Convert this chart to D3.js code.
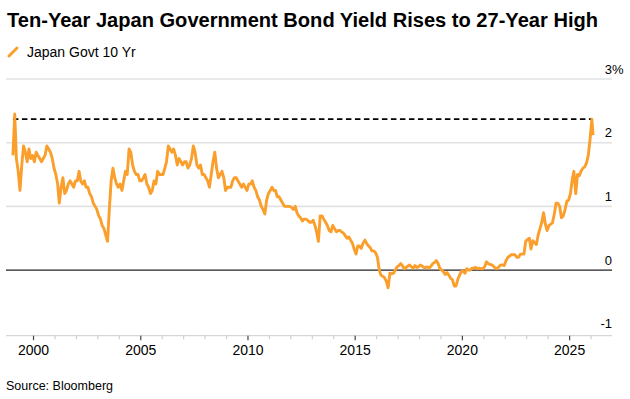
<!DOCTYPE html>
<html>
<head>
<meta charset="utf-8">
<script src="https://cdn.jsdelivr.net/npm/d3@7"></script>
<style>
  body { margin: 0; background: #fff; }
  text { font-family: "Liberation Sans", Arial, sans-serif; fill: #000; }
</style>
</head>
<body>
<div id="chart"></div>
<script>

let width = 630,
    height = 399;

// monthly readings of the 10yr JGB yield (%), Jan 1999 .. Jan 2026
let firstMonth = "1999-01-15";
let monthlyYield = [
    1.80, 2.45, 1.75, 1.55, 1.25, 1.65, 1.95, 1.85, 1.70, 1.90, 1.75, 1.80,   // 1999
    1.70, 1.85, 1.80, 1.75, 1.70, 1.75, 1.80, 1.95, 1.90, 1.85, 1.75, 1.60,   // 2000
    1.50, 1.35, 1.05, 1.30, 1.45, 1.20, 1.25, 1.35, 1.40, 1.35, 1.30, 1.40,   // 2001
    1.40, 1.55, 1.40, 1.35, 1.40, 1.30, 1.30, 1.20, 1.15, 1.05, 1.00, 0.95,   // 2002
    0.85, 0.80, 0.70, 0.65, 0.55, 0.45, 0.95, 1.40, 1.60, 1.45, 1.35, 1.30,   // 2003
    1.35, 1.25, 1.40, 1.55, 1.50, 1.90, 1.85, 1.65, 1.55, 1.50, 1.50, 1.40,   // 2004
    1.40, 1.45, 1.50, 1.35, 1.30, 1.20, 1.25, 1.40, 1.35, 1.55, 1.50, 1.50,   // 2005
    1.50, 1.60, 1.70, 1.95, 1.90, 1.85, 1.90, 1.80, 1.65, 1.75, 1.70, 1.65,   // 2006
    1.70, 1.70, 1.60, 1.65, 1.75, 1.95, 1.85, 1.65, 1.60, 1.65, 1.50, 1.50,   // 2007
    1.45, 1.40, 1.30, 1.50, 1.70, 1.85, 1.60, 1.45, 1.50, 1.55, 1.45, 1.25,   // 2008
    1.30, 1.30, 1.30, 1.40, 1.45, 1.45, 1.40, 1.35, 1.30, 1.35, 1.30, 1.25,   // 2009
    1.35, 1.35, 1.40, 1.30, 1.25, 1.15, 1.10, 1.00, 0.95, 0.88, 1.10, 1.20,   // 2010
    1.25, 1.30, 1.25, 1.25, 1.15, 1.15, 1.10, 1.05, 1.00, 1.00, 1.00, 1.00,   // 2011
    0.98, 0.95, 1.00, 0.90, 0.85, 0.82, 0.77, 0.80, 0.80, 0.78, 0.75, 0.75,   // 2012
    0.78, 0.70, 0.60, 0.45, 0.85, 0.85, 0.80, 0.75, 0.70, 0.62, 0.60, 0.70,   // 2013
    0.65, 0.60, 0.62, 0.62, 0.60, 0.58, 0.54, 0.50, 0.52, 0.47, 0.42, 0.33,   // 2014
    0.25, 0.38, 0.38, 0.34, 0.42, 0.47, 0.42, 0.38, 0.35, 0.30, 0.30, 0.27,   // 2015
    0.20, 0.00, -0.08, -0.10, -0.12, -0.18, -0.28, -0.05, -0.06, -0.05, 0.00, 0.05, // 2016
    0.07, 0.10, 0.07, 0.02, 0.04, 0.06, 0.08, 0.05, 0.03, 0.07, 0.04, 0.05,   // 2017
    0.08, 0.06, 0.04, 0.04, 0.05, 0.03, 0.06, 0.10, 0.12, 0.15, 0.10, 0.02,   // 2018
    0.00, -0.03, -0.07, -0.04, -0.08, -0.13, -0.15, -0.25, -0.25, -0.15, -0.08, -0.02, // 2019
    -0.02, -0.05, 0.02, 0.00, 0.00, 0.03, 0.03, 0.04, 0.02, 0.03, 0.02, 0.02, // 2020
    0.05, 0.13, 0.10, 0.09, 0.08, 0.06, 0.03, 0.02, 0.05, 0.08, 0.08, 0.07,   // 2021
    0.15, 0.20, 0.22, 0.24, 0.24, 0.24, 0.20, 0.20, 0.25, 0.25, 0.25, 0.45,   // 2022
    0.48, 0.50, 0.33, 0.46, 0.43, 0.40, 0.55, 0.65, 0.75, 0.90, 0.72, 0.62,   // 2023
    0.70, 0.72, 0.74, 0.88, 1.05, 1.05, 1.00, 0.82, 0.85, 0.95, 1.08, 1.10,   // 2024
    1.20, 1.42, 1.55, 1.20, 1.50, 1.48, 1.55, 1.60, 1.62, 1.68, 1.80, 2.05,   // 2025
    2.37                                                                       // 2026
];
let lastDate = "2026-02-04",
    lastYield = 2.12;

let highLevel = 2.37;   // dashed line: the 27-year high

let yTicks = [-1, 0, 1, 2, 3];
let yearTicks = d3.range(2000, 2027);
let labelYears = [2000, 2005, 2010, 2015, 2020, 2025];

let parse = d3.timeParse("%Y-%m-%d");
let start = parse(firstMonth);
let data = monthlyYield.map(function (v, i) { return { date: d3.timeMonth.offset(start, i), value: v } });
data.push({ date: parse(lastDate), value: lastYield });

let plotLeft = 6, plotRight = 612;

let svg = d3.select("#chart")
    .append("svg")
    .attr("width", width)
    .attr("height", height);

let x = d3.scaleTime()
    .domain([new Date(1998, 8, 19), new Date(2026, 11, 24)])
    .range([plotLeft, plotRight]);

let y = d3.scaleLinear()
    .domain([-1, 3])
    .range([333.7, 79]);

// title + legend
svg.append("text")
    .attr("x", 7)
    .attr("y", 27)
    .attr("textLength", 591)
    .attr("lengthAdjust", "spacingAndGlyphs")
    .style("font-size", "20px")
    .style("font-weight", "bold")
    .text("Ten-Year Japan Government Bond Yield Rises to 27-Year High");

svg.append("line")
    .attr("x1", 9).attr("y1", 56)
    .attr("x2", 17).attr("y2", 48)
    .attr("stroke", "#fb9f2c")
    .attr("stroke-width", 3)
    .attr("stroke-linecap", "round");

svg.append("text")
    .attr("x", 27)
    .attr("y", 56.5)
    .style("font-size", "14px")
    .text("Japan Govt 10 Yr");

// gridlines
svg.append("g")
    .selectAll("line")
    .data(yTicks.filter(function (d) { return d > -1 }))
    .enter()
    .append("line")
    .attr("x1", plotLeft)
    .attr("x2", plotRight)
    .attr("y1", function (d) { return y(d) })
    .attr("y2", function (d) { return y(d) })
    .attr("stroke", function (d) { return d === 0 ? "#222" : "#e2e2e2" })
    .attr("stroke-width", function (d) { return d === 0 ? 1.3 : 1.6 });

// y labels
let yLab = svg.append("g");
yLab.selectAll("text")
    .data(yTicks)
    .enter()
    .append("text")
    .attr("x", 612)
    .attr("y", function (d) { return y(d) - 5.5 })
    .style("text-anchor", "end")
    .style("font-size", "13px")
    .text(function (d) { return d < 0 ? "-" + Math.abs(d) : d });
yLab.append("text")
    .attr("x", 612)
    .attr("y", y(3) - 5.5)
    .style("font-size", "13px")
    .text("%");

// x axis
let axisY = 335.7;
svg.append("line")
    .attr("x1", plotLeft).attr("x2", plotRight)
    .attr("y1", axisY).attr("y2", axisY)
    .attr("stroke", "#d6d6d6")
    .attr("stroke-width", 1.2);

svg.append("g")
    .selectAll("line")
    .data(yearTicks)
    .enter()
    .append("line")
    .attr("x1", function (d) { return x(new Date(d, 0, 1)) })
    .attr("x2", function (d) { return x(new Date(d, 0, 1)) })
    .attr("y1", axisY)
    .attr("y2", function (d) { return labelYears.includes(d) ? axisY + 4.5 : axisY + 3.5 })
    .attr("stroke", function (d) { return labelYears.includes(d) ? "#444" : "#cfcfcf" })
    .attr("stroke-width", 1.2);

svg.append("g")
    .selectAll("text")
    .data(labelYears)
    .enter()
    .append("text")
    .attr("x", function (d) { return x(new Date(d, 0, 1)) })
    .attr("y", 355)
    .style("text-anchor", "middle")
    .style("font-size", "14px")
    .text(function (d) { return d });

// dashed high line
svg.append("line")
    .attr("x1", x(data[0].date))
    .attr("x2", x(data[data.length - 2].date))
    .attr("y1", y(highLevel))
    .attr("y2", y(highLevel))
    .attr("stroke", "#000")
    .attr("stroke-width", 1.8)
    .attr("stroke-dasharray", "5.5,3.5");

// yield line
let line = d3.line()
    .x(function (d) { return x(d.date) })
    .y(function (d) { return y(d.value) });

svg.append("path")
    .datum(data)
    .attr("d", line)
    .attr("fill", "none")
    .attr("stroke", "#fb9f2c")
    .attr("stroke-width", 2.9)
    .attr("stroke-linejoin", "round");

svg.append("text")
    .attr("x", 6)
    .attr("y", 390)
    .style("font-size", "12.5px")
    .text("Source: Bloomberg");

</script>
</body>
</html>
